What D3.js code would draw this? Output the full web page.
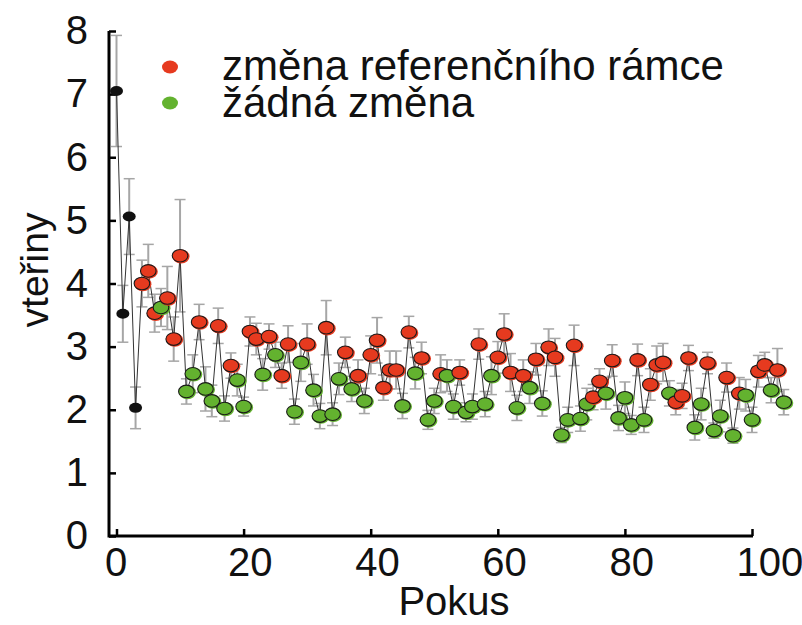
<!DOCTYPE html>
<html><head><meta charset="utf-8">
<script src="https://cdn.jsdelivr.net/npm/d3@7"></script>
<style>html,body{margin:0;padding:0;background:#fff;}svg{display:block;font-family:Arial,"Liberation Sans",sans-serif;}</style>
</head><body>
<script>
// trial index = position in arrays (0..105)
const seconds = [7.05,3.52,5.06,2.03,4.0,4.2,3.53,3.62,3.77,3.12,
4.44,2.29,2.57,3.39,2.33,2.14,3.33,2.02,2.7,2.47,
2.05,3.24,3.12,2.56,3.16,2.87,2.54,3.04,1.97,2.75,
3.04,2.31,1.9,3.3,1.93,2.49,2.91,2.33,2.54,2.14,
2.87,3.1,2.35,2.63,2.63,2.06,3.23,2.58,2.82,1.84,
2.14,2.57,2.54,2.05,2.59,1.96,2.05,3.04,2.09,2.54,
2.83,3.2,2.59,2.03,2.54,2.35,2.8,2.1,2.99,2.83,
1.6,1.84,3.02,1.86,2.09,2.2,2.45,2.26,2.78,1.87,
2.19,1.76,2.79,1.84,2.4,2.71,2.75,2.26,2.12,2.22,
2.82,1.72,2.09,2.74,1.67,1.9,2.51,1.59,2.26,2.23,
1.84,2.61,2.71,2.31,2.63,2.12];
const errors = [0.88,0.45,0.6,0.33,0.37,0.42,0.3,0.3,0.5,0.35,
0.89,0.2,0.3,0.28,0.35,0.25,0.28,0.2,0.2,0.25,
0.15,0.23,0.25,0.25,0.2,0.2,0.2,0.29,0.2,0.3,
0.32,0.25,0.2,0.43,0.18,0.25,0.24,0.2,0.25,0.2,
0.3,0.36,0.2,0.3,0.3,0.2,0.25,0.25,0.25,0.15,
0.2,0.3,0.25,0.2,0.2,0.15,0.2,0.24,0.2,0.3,
0.25,0.32,0.3,0.2,0.25,0.25,0.25,0.2,0.29,0.3,
0.12,0.2,0.32,0.2,0.25,0.2,0.2,0.25,0.25,0.2,
0.25,0.15,0.25,0.2,0.25,0.3,0.3,0.2,0.2,0.2,
0.2,0.2,0.25,0.17,0.12,0.25,0.23,0.12,0.25,0.25,
0.2,0.25,0.2,0.2,0.34,0.2];
// k = initial (black), r = změna referenčního rámce, g = žádná změna
const condition = ["k","k","k","k","r","r","r","g","r","r",
"r","g","g","r","g","g","r","g","r","g",
"g","r","r","g","r","g","r","r","g","g",
"r","g","g","r","g","g","r","g","r","g",
"r","r","r","r","r","g","r","g","r","g",
"g","r","g","g","r","g","g","r","g","g",
"r","r","r","g","r","g","r","g","r","r",
"g","g","r","g","g","r","r","g","r","g",
"g","g","r","g","r","r","r","g","r","r",
"r","g","g","r","g","g","r","g","r","g",
"g","r","r","g","r","g"];
const xTicks = [0,20,40,60,80,100];
const yTicks = [0,1,2,3,4,5,6,7,8];
const legendLabels = ["změna referenčního rámce","žádná změna"];
const legendKeys = ["r","g"];
const fills = {k:"#111111", r:"#e63a1f", g:"#63b22f"};

const W=802,H=625;
const svg=d3.select("body").append("svg").attr("width",W).attr("height",H);
const x=d3.scaleLinear().domain([0,100]).range([116.5,752]);
const y=d3.scaleLinear().domain([0,8]).range([536,31]);
const axisX=109;

const data=seconds.map((v,i)=>({t:i,v,e:errors[i],c:condition[i]}));

// axes
const yAxis=d3.axisLeft(y).tickValues(yTicks).tickSizeInner(-7).tickSizeOuter(0).tickPadding(21).tickFormat(d3.format("d"));
const gy=svg.append("g").attr("transform",`translate(${axisX},0)`).call(yAxis);
gy.select(".domain").remove();
gy.selectAll(".tick line").attr("stroke","#000").attr("stroke-width",2.5);
gy.selectAll("text").attr("font-size",40).attr("fill","#111").attr("font-family","Arial,'Liberation Sans',sans-serif");

const xAxis=d3.axisBottom(x).tickValues(xTicks).tickSizeInner(-7).tickSizeOuter(0).tickPadding(12).tickFormat(d3.format("d"));
const gx=svg.append("g").attr("transform",`translate(0,${y(0)})`).call(xAxis);
gx.select(".domain").remove();
gx.selectAll(".tick line").attr("stroke","#000").attr("stroke-width",2.5);
gx.selectAll("text").attr("font-size",40).attr("fill","#111").attr("font-family","Arial,'Liberation Sans',sans-serif")
  .attr("text-anchor","start").attr("x",d=>d===0?-12:-16);

svg.append("line").attr("x1",axisX).attr("x2",axisX).attr("y1",y(0)+1.5).attr("y2",y(8)).attr("stroke","#000").attr("stroke-width",3);
svg.append("line").attr("x1",axisX).attr("x2",x(100)+1).attr("y1",y(0)).attr("y2",y(0)).attr("stroke","#000").attr("stroke-width",3);

// error bars
const eb=svg.append("g").attr("stroke","#a6a6a6").attr("stroke-width",1.5);
data.forEach(d=>{
  eb.append("line").attr("x1",x(d.t)).attr("x2",x(d.t)).attr("y1",y(d.v-d.e)).attr("y2",y(d.v+d.e)).attr("stroke-width",2);
  [d.v-d.e,d.v+d.e].forEach(b=>eb.append("line").attr("x1",x(d.t)-5.5).attr("x2",x(d.t)+5.5).attr("y1",y(b)).attr("y2",y(b)));
});

// connecting line
svg.append("path").datum(data)
  .attr("d",d3.line().x(d=>x(d.t)).y(d=>y(d.v)))
  .attr("fill","none").attr("stroke","#333").attr("stroke-width",1);

// points
const pg=svg.append("g");
data.forEach(d=>{
  if(d.c==="k"){
    pg.append("ellipse").attr("cx",x(d.t)).attr("cy",y(d.v)).attr("rx",6.5).attr("ry",5).attr("fill","#111");
  } else {
    pg.append("ellipse").attr("cx",x(d.t)+1).attr("cy",y(d.v)+0.8).attr("rx",8.5).attr("ry",7).attr("fill",fills[d.c]);
    pg.append("ellipse").attr("cx",x(d.t)).attr("cy",y(d.v)).attr("rx",7.8).attr("ry",6.3).attr("fill",fills[d.c]).attr("stroke","#1a1a1a").attr("stroke-width",1.1);
  }
});

// legend
const lg=svg.append("g");
legendKeys.forEach((k,i)=>{
  lg.append("ellipse").attr("cx",170).attr("cy",67+i*36).attr("rx",8).attr("ry",6.5).attr("fill",fills[k]);
  lg.append("text").attr("x",222).attr("y",80+i*37).attr("font-size",42).attr("fill","#111").text(legendLabels[i]);
});

// axis titles
svg.append("text").attr("x",454).attr("y",615).attr("text-anchor","middle").attr("font-size",40).attr("fill","#111").text("Pokus");
svg.append("text").attr("transform","translate(48,270) rotate(-90)").attr("text-anchor","middle").attr("font-size",39).attr("fill","#111").text("vteřiny");
</script>
</body></html>
